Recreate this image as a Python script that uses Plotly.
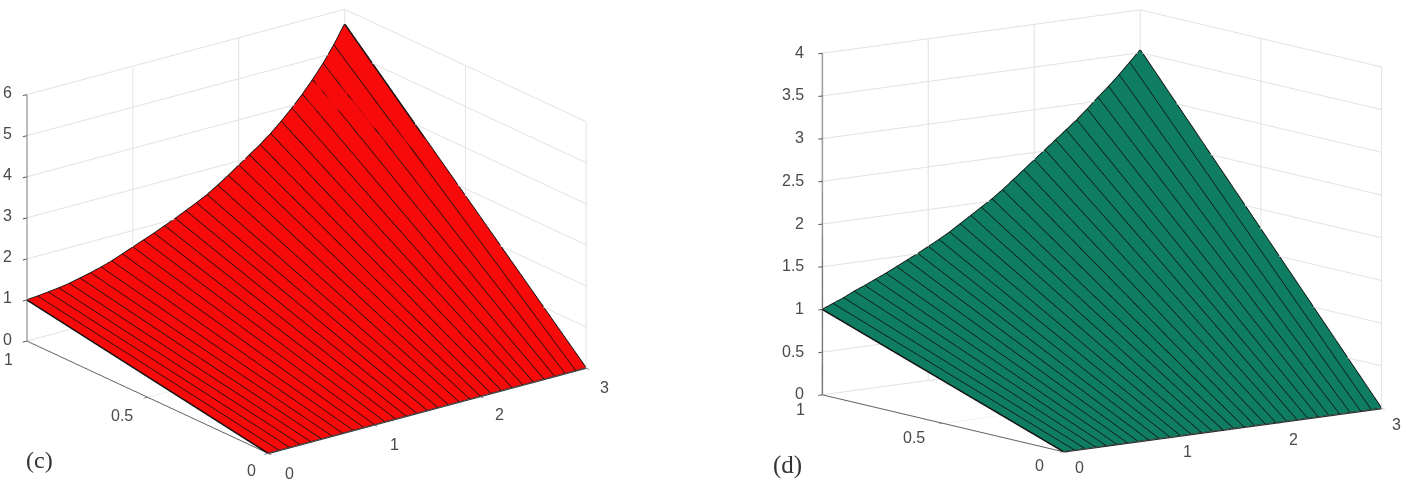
import plotly.graph_objects as go

x_grid = [i / 10 for i in range(31)]
y_grid = [0, 1]
z_c_front = [0.0] * 31
z_c_back = [1.00,1.02,1.05,1.08,1.12,1.18,1.24,1.31,1.39,1.49,1.59,1.69,1.79,1.90,2.01,2.13,2.25,2.38,2.54,2.71,2.89,3.07,3.25,3.45,3.68,3.93,4.20,4.50,4.83,5.21,5.64]
z_d_front = [0.0] * 31
z_d_back = [1.00,1.05,1.10,1.16,1.21,1.265,1.32,1.38,1.44,1.50,1.565,1.63,1.70,1.78,1.86,1.94,2.02,2.11,2.21,2.31,2.41,2.51,2.61,2.71,2.81,2.92,3.04,3.15,3.27,3.40,3.53]
x_ticks = [0, 1, 2, 3]
y_ticks = [0, 0.5, 1]
z_c_ticks = [0, 1, 2, 3, 4, 5, 6]
z_d_ticks = [0, 0.5, 1, 1.5, 2, 2.5, 3, 3.5, 4]
RED = "#f60a0a"
GREEN = "#0f7d62"

R = 2.0
SCALE = 1.728
CZ = -0.04
LINE = "#101010"
fig = go.Figure()

def add_panel(scene, front, back, color):
    fig.add_trace(go.Surface(
        x=x_grid, y=y_grid, z=[front, back], scene=scene, showscale=False,
        colorscale=[[0, color], [1, color]], cmin=0, cmax=1, surfacecolor=[[0]*31, [0]*31],
        lighting=dict(ambient=1, diffuse=0, specular=0, roughness=1, fresnel=0),
        hoverinfo="skip"))
    xs, ys, zs = [], [], []
    for xv, f, b in zip(x_grid, front, back):
        xs += [xv, xv, None]
        ys += [y_grid[0], y_grid[1], None]
        zs += [f, b, None]
    xs += x_grid + [None] + x_grid
    ys += [1] * 31 + [None] + [0] * 31
    zs += list(back) + [None] + list(front)
    fig.add_trace(go.Scatter3d(x=xs, y=ys, z=zs, mode="lines", scene=scene, showlegend=False,
                               connectgaps=False, line=dict(color=LINE, width=3), hoverinfo="skip"))

add_panel("scene", z_c_front, z_c_back, RED)
add_panel("scene2", z_d_front, z_d_back, GREEN)

def axis(tickvals, rng, linecolor="#606060", linewidth=2):
    return dict(range=rng, tickmode="array", tickvals=tickvals, title=dict(text=""),
                showticklabels=False, showbackground=False, showspikes=False, zeroline=False,
                showgrid=True, gridcolor="#e2e2e2", gridwidth=2, showline=True,
                linecolor=linecolor, linewidth=linewidth,
                ticks="outside", ticklen=5, tickcolor="#555555", tickwidth=2)

TICK_FONT = dict(family="Liberation Sans", size=16, color="#4a4a4a")

def ticks_text(z_ticks, z_dx, z_dy, y_shift, x_shift):
    out = []
    for t in z_ticks:
        out.append(dict(x=0, y=1, z=t, text=f"{t:g}", showarrow=False, xanchor="right",
                        xshift=z_dx, yshift=z_dy, font=TICK_FONT))
    for t, (dx, dy) in zip(y_ticks, y_shift):
        out.append(dict(x=0, y=t, z=0, text=f"{t:g}", showarrow=False, xshift=dx, yshift=dy, font=TICK_FONT))
    for t, (dx, dy) in zip(x_ticks, x_shift):
        out.append(dict(x=t, y=0, z=0, text=f"{t:g}", showarrow=False, xshift=dx, yshift=dy, font=TICK_FONT))
    return out

def eye(ex, ey, ez):
    return dict(x=ex * R, y=ey * R, z=ez * R)

fig.update_layout(
    width=1410, height=488, margin=dict(l=0, r=0, t=0, b=0), paper_bgcolor="white", showlegend=False,
    scene=dict(domain=dict(x=[0, 613/1410], y=[17/488, 479/488]),
               xaxis=axis(x_ticks, [0, 3]), yaxis=axis(y_ticks, [0, 1]),
               zaxis=axis(z_c_ticks, [0, 6], "#777777", 3),
               aspectmode="manual", aspectratio=dict(x=SCALE, y=SCALE, z=0.66*SCALE),
               annotations=ticks_text(z_c_ticks, -13, 2,
                                      [(-17, -17), (-26, -18), (-18, -18)],
                                      [(21, -20), (20, -19), (19, -18), (18, -19)]),
               camera=dict(projection=dict(type="orthographic"), up=dict(x=0, y=0, z=1),
                           center=dict(x=0, y=0, z=CZ), eye=eye(-0.5695, -0.750, 0.336))),
    scene2=dict(domain=dict(x=[794/1410, 1], y=[17/488, 479/488]),
                xaxis=axis(x_ticks, [0, 3]), yaxis=axis(y_ticks, [0, 1]),
                zaxis=axis(z_d_ticks, [0, 4], "#777777", 3),
                aspectmode="manual", aspectratio=dict(x=SCALE, y=SCALE, z=0.87*SCALE),
                annotations=ticks_text(z_d_ticks, -16, 1,
                                       [(-24, -14), (-29, -14), (-22, -15)],
                                       [(16, -16), (18, -14), (18, -16), (15, -16)]),
                camera=dict(projection=dict(type="orthographic"), up=dict(x=0, y=0, z=1),
                            center=dict(x=0, y=0, z=CZ), eye=eye(-0.597, -0.786, 0.16))),
    annotations=[
        dict(text="(c)", x=39/1410, y=1-460/488, xref="paper", yref="paper", showarrow=False,
             xanchor="center", yanchor="middle",
             font=dict(family="Liberation Serif", size=24, color="#333333")),
        dict(text="(d)", x=787/1410, y=1-465/488, xref="paper", yref="paper", showarrow=False,
             xanchor="center", yanchor="middle",
             font=dict(family="Liberation Serif", size=25, color="#333333")),
    ])

fig.write_html("out.html", config={"displayModeBar": False},
               post_script="document.body.style.margin='0';")
